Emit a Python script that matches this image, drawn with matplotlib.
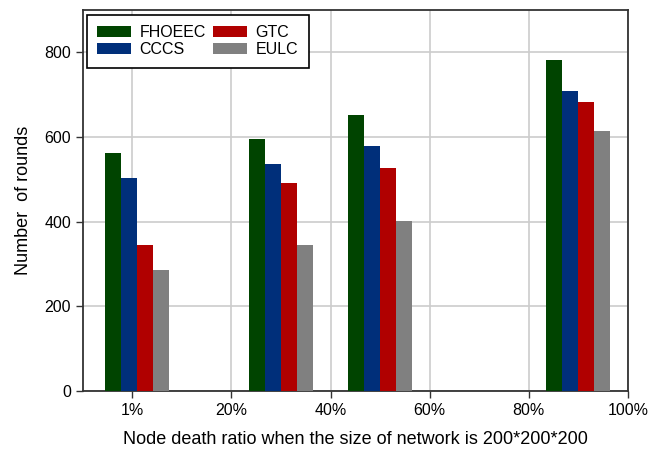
import numpy as np
import matplotlib.pyplot as plt

plt.rcParams['font.family'] = ['Liberation Sans', 'DejaVu Sans']

tick_labels = ['1%', '20%', '40%', '60%', '80%', '100%']
group_pos = [0.05, 1.5, 2.5, 4.5]
methods = ['FHOEEC', 'CCCS', 'GTC', 'EULC']
fhoeec = [563, 594, 651, 783]
cccs = [502, 535, 578, 709]
gtc = [345, 490, 527, 682]
eulc = [285, 345, 402, 614]
colors = ['#004400', '#002f7a', '#b00000', '#808080']

fig = plt.figure(figsize=(6.48, 4.55), dpi=100)
ax = fig.add_axes([0.1276, 0.1413, 0.969 - 0.1276, 0.978 - 0.1413])

w = 0.162
series = [fhoeec, cccs, gtc, eulc]
x = np.array(group_pos)
for i, (vals, name) in enumerate(zip(series, methods)):
    ax.bar(x + (i - 1.5) * w, vals, width=w, color=colors[i], label=name,
           zorder=3)

ax.set_xlim(-0.5, 5)
ax.set_ylim(0, 900)
ax.set_xticks(range(len(tick_labels)))
ax.set_xticklabels(tick_labels)
ax.set_yticks([0, 200, 400, 600, 800])
ax.grid(True, color='#cccccc', linewidth=1.2, zorder=0)
ax.tick_params(labelsize=11.5, length=5, width=1, color='#333333')
for s in ax.spines.values():
    s.set_color('#333333')
    s.set_linewidth(1.3)

ax.set_xlabel('Node death ratio when the size of network is 200*200*200',
              fontsize=13, labelpad=10)
ax.set_ylabel('Number  of rounds', fontsize=13, labelpad=9)

leg = ax.legend(ncol=2, loc='upper left', bbox_to_anchor=(0.002, 0.995),
                fontsize=11.5, fancybox=False, edgecolor='black',
                handlelength=2.1, handleheight=0.7, columnspacing=0.45,
                labelspacing=0.12, borderpad=0.65, handletextpad=0.55,
                borderaxespad=0.2, framealpha=1)
leg.get_frame().set_linewidth(1.2)

fig.savefig('out.png', dpi=100)
